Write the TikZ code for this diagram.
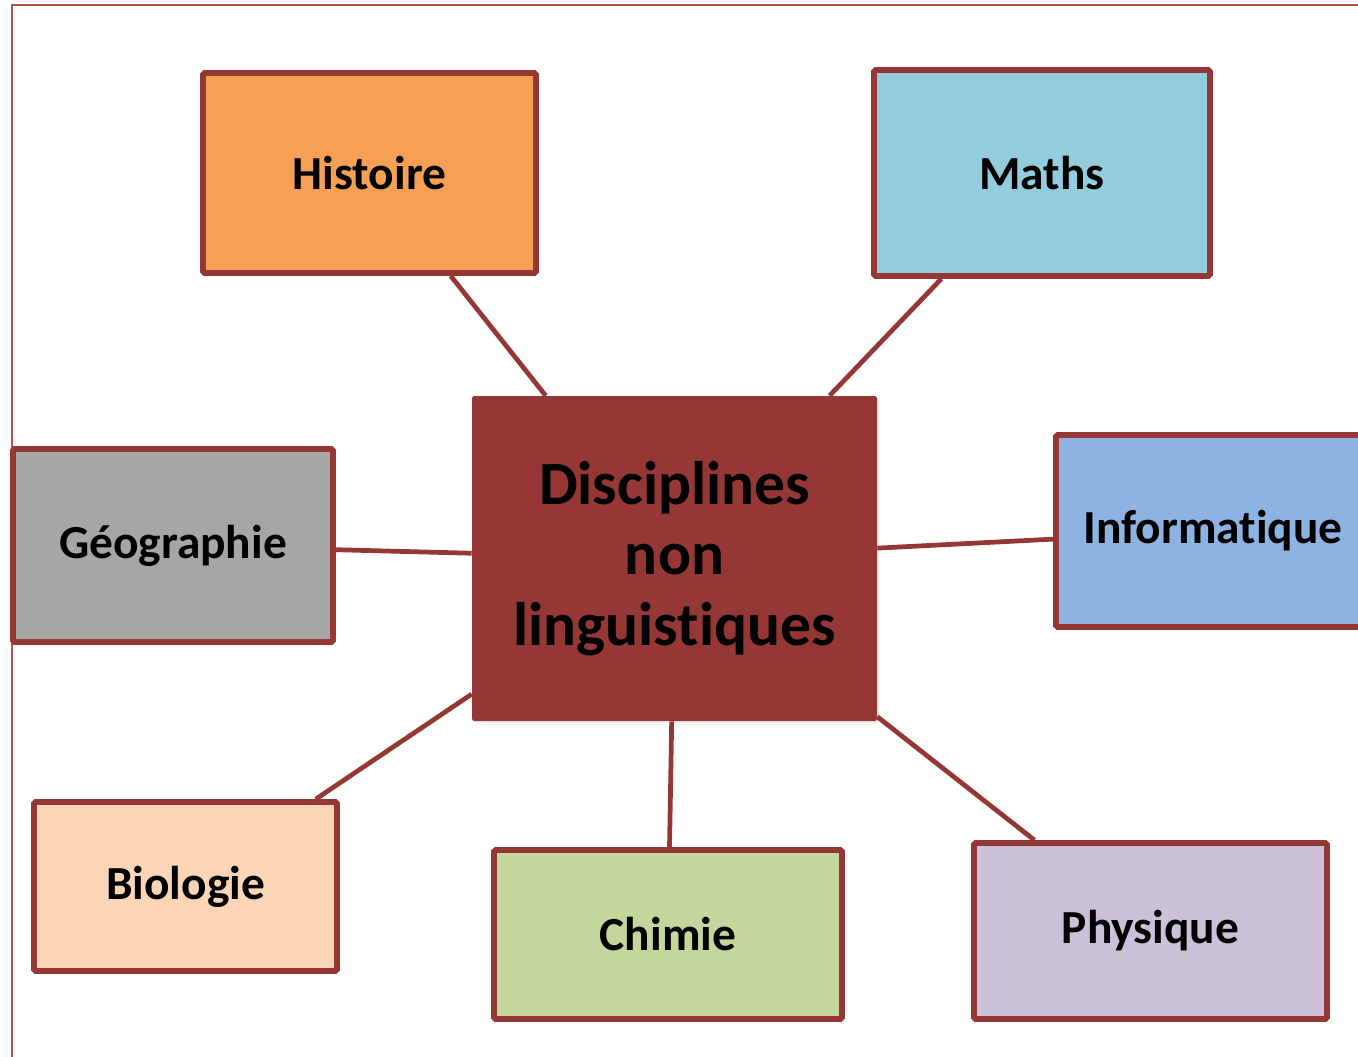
\documentclass[tikz,border=0pt]{standalone}
\usepackage{fontspec}
\setmainfont[Ligatures={NoCommon,NoRequired}]{Carlito}
\usetikzlibrary{shadows}
\definecolor{brique}{HTML}{953735}
\definecolor{cadre}{HTML}{B05050}
\definecolor{orange}{HTML}{F6A055}
\definecolor{ciel}{HTML}{93CDDD}
\definecolor{gris}{HTML}{A6A6A6}
\definecolor{bleu}{HTML}{8DB3E2}
\definecolor{peche}{HTML}{FBD5B5}
\definecolor{olive}{HTML}{C3D69B}
\definecolor{lilas}{HTML}{CCC1DA}

\begin{document}
\begin{tikzpicture}[x=0.02cm,y=-0.02cm,
      every node/.style={inner sep=2pt,align=center,font=\bfseries\fontsize{27}{32}\selectfont},
      box/.style={draw=brique,line width=3.3pt,rounded corners=1pt,
        drop shadow={shadow xshift=1pt,shadow yshift=-1pt,opacity=0.25}},
      lien/.style={draw=brique,line width=2.7pt}]
      \useasboundingbox(0,0)rectangle(1358,1057);
      \draw[cadre,line width=1pt](12,1057)--(12,5)--(1358,5);
      \node[fill=brique,minimum width=8.1cm,minimum height=6.5cm,rounded corners=1pt,
        drop shadow={shadow xshift=1pt,shadow yshift=-1pt,opacity=0.25},
        font=\bfseries\fontsize{35}{40}\selectfont](dnl)at(674.5,558.5)
        {Disciplines\\non\\linguistiques};
      \node[box,fill=orange,minimum width=6.66cm,minimum height=4.0cm](hist)at(369.5,173){Histoire};
      \node[box,fill=ciel,minimum width=6.72cm,minimum height=4.12cm](maths)at(1042,173){Maths};
      \node[box,fill=gris,minimum width=6.4cm,minimum height=3.86cm](geo)at(173,545.5){Géographie};
      \node[box,fill=bleu,minimum width=6.28cm,minimum height=3.84cm](info)at(1213,531){Informatique};
      \node[box,fill=peche,minimum width=6.06cm,minimum height=3.38cm](bio)at(185.5,886.5){Biologie};
      \node[box,fill=olive,minimum width=6.96cm,minimum height=3.38cm](chim)at(668,934.5){Chimie};
      \node[box,fill=lilas,minimum width=7.06cm,minimum height=3.52cm](phys)at(1150.5,931){Physique};
      \foreach \n in {hist,maths,geo,info,bio,chim,phys}
        \draw[lien](dnl)--(\n);
   \end{tikzpicture}
\end{document}
